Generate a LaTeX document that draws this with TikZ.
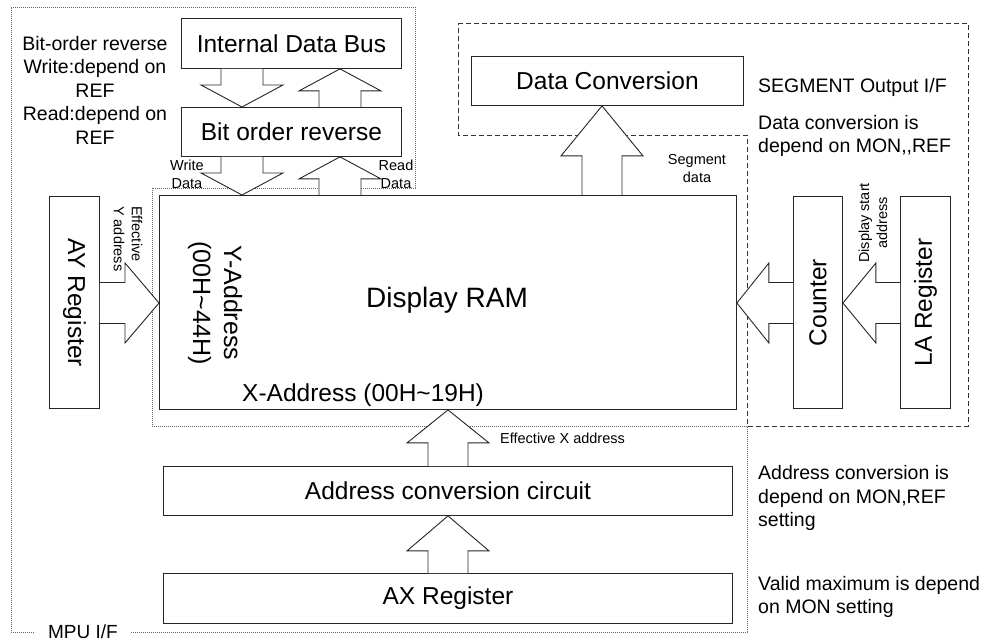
\documentclass[tikz,border=0pt]{standalone}
\usepackage{fontspec}
\setmainfont{Liberation Sans}
\usetikzlibrary{calc}
\newcommand\blkarrow[5]{%
  \path ($(#2)!#5!(#1)$) coordinate (ba);
  \draw[barrow] ($(#1)!#3!90:(#2)$) -- ($(ba)!#3!90:(#2)$) -- ($(ba)!#4!90:(#2)$) -- (#2)
     -- ($(ba)!#4!-90:(#2)$) -- ($(ba)!#3!-90:(#2)$) -- ($(#1)!#3!-90:(#2)$);
}
\begin{document}
\begin{tikzpicture}[x=1bp,y=-1bp,
  box/.style={draw=black!85, line width=0.9bp, fill=white, inner sep=0pt, anchor=north west},
  lbl/.style={font=\fontsize{24.5bp}{28bp}\selectfont},
  note/.style={font=\fontsize{19.5bp}{23.5bp}\selectfont, inner sep=0pt},
  tiny/.style={font=\fontsize{14.5bp}{18bp}\selectfont, inner sep=0pt},
  barrow/.style={draw=black!85, line width=0.9bp, fill=white, line join=miter},
  mpu/.style={draw=black!60, line width=0.9bp, dash pattern=on 1bp off 1bp},
  seg/.style={draw=black!80, line width=0.9bp, dash pattern=on 5bp off 3bp},
]
\useasboundingbox (0,0) rectangle (986,641);
\fill[white] (0,0) rectangle (986,641);

% interface regions
\draw[mpu] (131,632) -- (747,632) -- (747,426) -- (152,426) -- (152,188) -- (415,188) -- (415,7) -- (11,7) -- (11,632) -- (35,632);
\node[inner sep=0pt, anchor=base, font=\fontsize{19bp}{23bp}\selectfont] (mpulbl) at (83,638) {MPU I/F};
\draw[seg] (458,23) -- (968,23) -- (968,426) -- (747,426) -- (747,135) -- (458,135) -- cycle;

% boxes
\node[box, lbl, minimum width=220bp, minimum height=50bp] (idb) at (181,18) {Internal Data Bus};
\node[box, lbl, minimum width=220bp, minimum height=49bp] (bor) at (181,107) {Bit order reverse};
\node[box, lbl, minimum width=272bp, minimum height=49bp] (dc) at (471,56) {Data Conversion};
\node[box, minimum width=577bp, minimum height=214bp] (ram) at (159,195) {};
\node[box, minimum width=50bp, minimum height=212bp] (ay) at (49,196) {};
\node[box, minimum width=49bp, minimum height=212bp] (cnt) at (793,196) {};
\node[box, minimum width=50bp, minimum height=212bp] (la) at (900,196) {};
\node[box, lbl, minimum width=569bp, minimum height=49bp] (adc) at (163,466) {Address conversion circuit};
\node[box, lbl, minimum width=569bp, minimum height=50bp] (ax) at (163,573) {AX Register};

% rotated box labels
\node[lbl, rotate=-90] (aylbl) at (ay.center) {AY Register};
\node[lbl, rotate=90] (cntlbl) at (cnt.center) {Counter};
\node[lbl, rotate=90] (lalbl) at (la.center) {LA Register};

% RAM labels
\node[font=\fontsize{28bp}{32bp}\selectfont] (ramlbl) at (447,300) {Display RAM};
\node[rotate=-90, align=center, font=\fontsize{25bp}{31bp}\selectfont] (ylbl) at (215,303) {Y-Address\\(00H\textasciitilde44H)};
\node[lbl, anchor=west, inner sep=0pt] (xlbl) at (242,395) {X-Address (00H\textasciitilde19H)};

% annotations
\node[note, align=center] (n1) at (95,90) {Bit-order reverse\\Write:depend on\\REF\\Read:depend on\\REF};
\node[note, anchor=west] (n2) at (758,87) {SEGMENT Output I/F};
\node[note, anchor=west, align=left] (n3) at (758,136) {Data conversion is\\depend on MON,{},REF};
\node[note, anchor=west, align=left] (n4) at (758,498) {Address conversion is\\depend on MON,REF\\setting};
\node[note, anchor=west, align=left] (n5) at (758,597) {Valid maximum is depend\\on MON setting};

% small labels
\node[tiny, align=center] (t1) at (187,174) {Write\\Data};
\node[tiny, align=center] (t2) at (396,174) {Read\\Data};
\node[tiny, align=center] (t3) at (697,169) {Segment\\data};
\node[tiny, anchor=west] (t4) at (500,438) {Effective X address};
\node[tiny, rotate=-90, anchor=west, align=left] (t5) at (128,206) {Effective\\Y address};
\node[tiny, rotate=90, align=center] (t6) at (873,223) {Display start\\address};

% arrow anchor points
\coordinate (xd) at (242,0);
\coordinate (xu) at (340,0);
\coordinate (xs) at (602,0);
\coordinate (xa) at (448,0);
\coordinate (ym) at (0,303);
\coordinate (p1) at (idb.south -| xd); \coordinate (q1) at (bor.north -| xd);
\coordinate (p2) at (bor.north -| xu); \coordinate (q2) at (idb.south -| xu);
\coordinate (p3) at (bor.south -| xd); \coordinate (q3) at (ram.north -| xd);
\coordinate (p4) at (ram.north -| xu); \coordinate (q4) at (bor.south -| xu);
\coordinate (p5) at (ram.north -| xs); \coordinate (q5) at (dc.south -| xs);
\coordinate (p6) at (ay.east |- ym);   \coordinate (q6) at (ram.west |- ym);
\coordinate (p7) at (cnt.west |- ym);  \coordinate (q7) at (ram.east |- ym);
\coordinate (p8) at (la.west |- ym);   \coordinate (q8) at (cnt.east |- ym);
\coordinate (p9) at (adc.north -| xa); \coordinate (q9) at (ram.south -| xa);
\coordinate (p10) at (ax.north -| xa); \coordinate (q10) at (adc.south -| xa);

\blkarrow{p1}{q1}{21bp}{41bp}{22bp}
\blkarrow{p2}{q2}{21bp}{41bp}{22bp}
\blkarrow{p3}{q3}{21bp}{41bp}{22bp}
\blkarrow{p4}{q4}{21bp}{41bp}{22bp}
\blkarrow{p5}{q5}{20bp}{41bp}{50bp}
\blkarrow{p6}{q6}{20.5bp}{40bp}{34bp}
\blkarrow{p7}{q7}{20.5bp}{40bp}{32bp}
\blkarrow{p8}{q8}{20.5bp}{40bp}{33bp}
\blkarrow{p9}{q9}{20bp}{41bp}{33bp}
\blkarrow{p10}{q10}{20bp}{41bp}{35bp}
\end{tikzpicture}
\end{document}
